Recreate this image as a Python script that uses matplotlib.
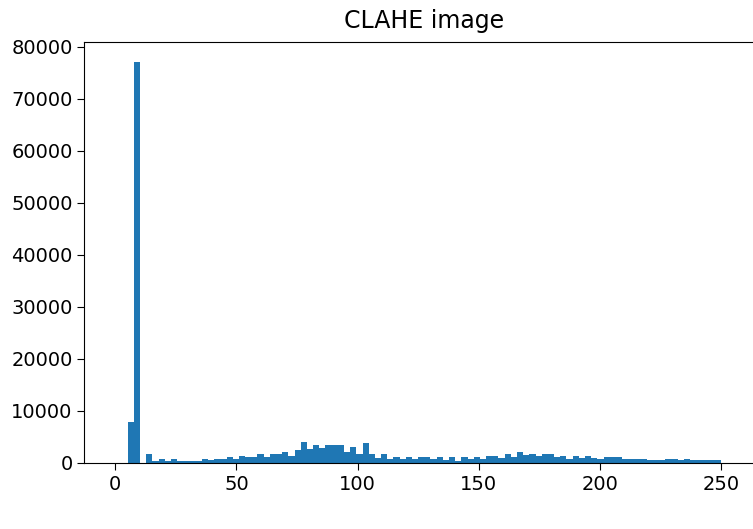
import numpy as np
import matplotlib
matplotlib.use("Agg")
import matplotlib.pyplot as plt

# Histogram of CLAHE image: 100 bins over [0, 255]
bin_edges = np.linspace(0, 255, 101)
counts = [
    0, 0, 7800, 77000, 0, 1800, 400, 700, 400, 700,
    400, 400, 400, 400, 700, 500, 700, 700, 1100, 700,
    1300, 1100, 1100, 1800, 1100, 1800, 1800, 2100, 1400, 2500,
    4000, 2600, 3400, 2800, 3400, 3400, 3400, 2000, 3000, 1800,
    3900, 1800, 1000, 1800, 700, 1100, 700, 1100, 700, 1100,
    1100, 700, 1100, 600, 1100, 300, 1100, 700, 1100, 700,
    1400, 1400, 1000, 1800, 1200, 2100, 1500, 1800, 1400, 1800,
    1800, 1200, 1400, 800, 1400, 1000, 1400, 1000, 700, 1200,
    1200, 1200, 800, 800, 800, 800, 500, 500, 500, 800,
    800, 500, 800, 500, 500, 500, 500, 500, 0, 0,
]
x_ticks = [0, 50, 100, 150, 200, 250]
y_ticks = [0, 10000, 20000, 30000, 40000, 50000, 60000, 70000, 80000]
title = "CLAHE image"

fig = plt.figure(figsize=(7.53, 5.29), dpi=100)
ax = fig.add_axes([0.112, 0.125, 0.903, 0.795])
centers = (bin_edges[:-1] + bin_edges[1:]) / 2
ax.hist(centers, bins=bin_edges, weights=counts, color="#1f77b4")
ax.spines["right"].set_visible(False)
ax.set_xticks(x_ticks)
ax.set_yticks(y_ticks)
ax.tick_params(labelsize=14, length=5)
ax.set_title(title, fontsize=17, pad=10)
fig.savefig("out.png", dpi=100)
